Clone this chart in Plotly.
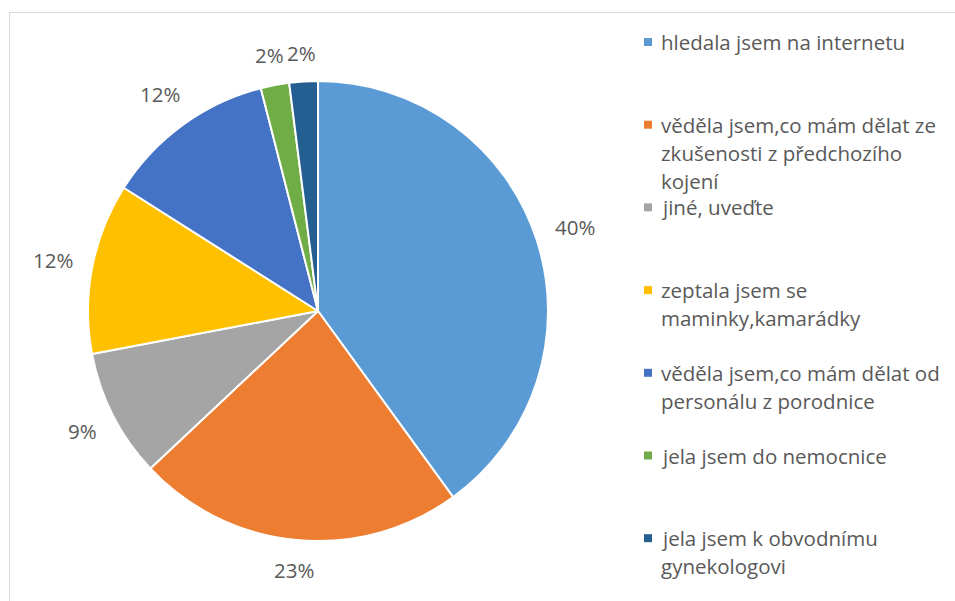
import math
import plotly.graph_objects as go

# Survey answers (share of respondents, %)
categories = [
    "hledala jsem na internetu",
    "věděla jsem,co mám dělat ze zkušenosti z předchozího kojení",
    "jiné, uveďte",
    "zeptala jsem se maminky,kamarádky",
    "věděla jsem,co mám dělat od personálu z porodnice",
    "jela jsem do nemocnice",
    "jela jsem k obvodnímu gynekologovi",
]
values = [40, 23, 9, 12, 12, 2, 2]

# Legend text wrapped into lines
legend_lines = [
    ["hledala jsem na internetu"],
    ["věděla jsem,co mám dělat ze", "zkušenosti z předchozího", "kojení"],
    ["jiné, uveďte"],
    ["zeptala jsem se", "maminky,kamarádky"],
    ["věděla jsem,co mám dělat od", "personálu z porodnice"],
    ["jela jsem do nemocnice"],
    ["jela jsem k obvodnímu", "gynekologovi"],
]

colors = ["#5B9BD5", "#ED7D31", "#A5A5A5", "#FFC000", "#4472C4", "#70AD47", "#255E91"]

W, H = 955, 601
FONT = "Open Sans"
FONT_SIZE = 20.5
TEXT_COLOR = "#595959"

# pie geometry in pixels
cx, cy, r = 318, 311, 230


def px(x):
    return x / W


def py(y):
    return 1 - y / H


fig = go.Figure(
    go.Pie(
        labels=categories,
        values=values,
        sort=False,
        direction="clockwise",
        rotation=0,
        textinfo="none",
        hoverinfo="label+percent",
        marker=dict(colors=colors, line=dict(color="white", width=2)),
        domain=dict(x=[px(cx - r), px(cx + r)], y=[py(cy + r), py(cy - r)]),
        showlegend=False,
    )
)

annotations = []
shapes = []

# outer border of the chart area
shapes.append(
    dict(
        type="rect", xref="paper", yref="paper",
        x0=px(9.5), x1=px(W + 20), y0=py(H + 20), y1=py(12.5),
        line=dict(color="#D9D9D9", width=1), fillcolor="rgba(0,0,0,0)",
    )
)

# percentage labels placed outside each slice, along its mid-angle
total = sum(values)
cum = 0
for v in values:
    mid = (cum + v / 2) / total * 2 * math.pi
    cum += v
    s, c = math.sin(mid), math.cos(mid)
    txt = f"{round(v / total * 100)}%"
    hw = len(txt) * 6.8
    hh = 10
    d = r + 18 + abs(s) * hw + abs(c) * hh
    x = cx + s * d
    y = cy - c * d
    annotations.append(
        dict(
            x=px(x), y=py(y), xref="paper", yref="paper", text=txt,
            showarrow=False, xanchor="center", yanchor="middle",
            font=dict(family=FONT, size=FONT_SIZE, color=TEXT_COLOR),
        )
    )

# legend: square marker plus wrapped text lines
leg_x, leg_y0, leg_step, line_h = 648, 42, 82.7, 28
for i, (lines, col) in enumerate(zip(legend_lines, colors)):
    y0 = leg_y0 + i * leg_step
    shapes.append(
        dict(
            type="rect", xref="paper", yref="paper",
            x0=px(leg_x - 4), x1=px(leg_x + 4), y0=py(y0 + 4), y1=py(y0 - 4),
            fillcolor=col, line=dict(width=0),
        )
    )
    for j, ln in enumerate(lines):
        annotations.append(
            dict(
                x=px(659), y=py(y0 + j * line_h), xref="paper", yref="paper",
                text=ln, showarrow=False, xanchor="left", yanchor="middle",
                font=dict(family=FONT, size=FONT_SIZE, color=TEXT_COLOR),
            )
        )

fig.update_layout(
    width=W, height=H,
    margin=dict(l=0, r=0, t=0, b=0),
    paper_bgcolor="white",
    plot_bgcolor="white",
    annotations=annotations,
    shapes=shapes,
)

fig.write_html("out.html")
